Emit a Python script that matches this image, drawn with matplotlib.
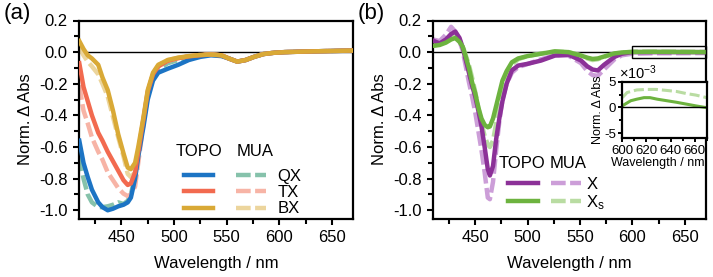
import matplotlib
matplotlib.use('Agg')
import matplotlib.pyplot as plt
from matplotlib.legend_handler import HandlerTuple
from matplotlib.lines import Line2D
from matplotlib.patches import Rectangle
from matplotlib.ticker import MultipleLocator

plt.rcParams['font.family'] = ['Liberation Sans', 'DejaVu Sans']
plt.rcParams['mathtext.fontset'] = 'custom'
plt.rcParams['mathtext.rm'] = 'Liberation Sans'
plt.rcParams['mathtext.it'] = 'Liberation Sans:italic'

# ---------------- data ----------------
wl_a = [410, 414, 418, 422, 428, 432, 437, 442, 447, 452, 456, 459, 463, 466, 471, 475,
        480, 485, 494, 504, 514, 525, 535, 545, 552, 560, 568, 576, 585, 595, 605, 620, 640, 670]
qx_topo = [-0.56, -0.70, -0.79, -0.87, -0.95, -0.98, -1.00, -0.99, -0.975, -0.965, -0.95, -0.92,
           -0.80, -0.66, -0.47, -0.30, -0.18, -0.13, -0.105, -0.08, -0.05, -0.03, -0.02, -0.025,
           -0.04, -0.06, -0.05, -0.03, -0.012, -0.004, 0.0, 0.003, 0.006, 0.01]
qx_mua = [-0.66, -0.80, -0.90, -0.95, -0.98, -0.98, -0.975, -0.965, -0.95, -0.96, -0.94, -0.90,
          -0.78, -0.64, -0.44, -0.28, -0.16, -0.11, -0.07, -0.05, -0.035, -0.022, -0.016, -0.022,
          -0.04, -0.06, -0.05, -0.03, -0.012, -0.004, 0.0, 0.003, 0.006, 0.01]
tx_topo = [-0.07, -0.22, -0.31, -0.40, -0.51, -0.56, -0.63, -0.69, -0.75, -0.81, -0.84, -0.83,
           -0.76, -0.63, -0.42, -0.25, -0.14, -0.09, -0.055, -0.038, -0.027, -0.019, -0.015, -0.02,
           -0.04, -0.06, -0.05, -0.03, -0.012, -0.004, 0.0, 0.003, 0.006, 0.01]
tx_mua = [-0.21, -0.37, -0.45, -0.54, -0.63, -0.68, -0.76, -0.81, -0.86, -0.895, -0.91, -0.90,
          -0.85, -0.70, -0.45, -0.27, -0.15, -0.09, -0.055, -0.038, -0.027, -0.019, -0.015, -0.02,
          -0.04, -0.06, -0.05, -0.03, -0.012, -0.004, 0.0, 0.003, 0.006, 0.01]
bx_topo = [0.07, 0.02, -0.02, -0.04, -0.08, -0.16, -0.24, -0.37, -0.52, -0.64, -0.73, -0.74,
           -0.70, -0.60, -0.41, -0.24, -0.13, -0.08, -0.05, -0.035, -0.025, -0.018, -0.015, -0.02,
           -0.04, -0.06, -0.05, -0.03, -0.012, -0.004, 0.0, 0.003, 0.006, 0.01]
bx_mua = [0.03, -0.02, -0.06, -0.09, -0.14, -0.20, -0.28, -0.41, -0.54, -0.66, -0.77, -0.79,
          -0.76, -0.64, -0.43, -0.26, -0.14, -0.085, -0.05, -0.035, -0.025, -0.018, -0.015, -0.02,
          -0.04, -0.06, -0.05, -0.03, -0.012, -0.004, 0.0, 0.003, 0.006, 0.01]

wl_b = [410, 416, 422, 427, 431, 435, 438, 441, 444, 447, 450, 453, 456, 459, 462, 464, 467, 470,
        473, 476, 480, 485, 491, 500, 513, 526, 539, 551, 557, 562, 567, 573, 583, 590, 600, 620, 640, 670]
x_topo = [0.072, 0.055, 0.08, 0.115, 0.13, 0.09, 0.03, -0.05, -0.13, -0.21, -0.28, -0.37, -0.47,
          -0.60, -0.74, -0.78, -0.72, -0.55, -0.42, -0.31, -0.20, -0.115, -0.085, -0.074, -0.053,
          -0.022, -0.016, -0.053, -0.09, -0.11, -0.116, -0.08, -0.03, -0.01, 0.0, 0.0, 0.0, 0.0]
x_mua = [0.08, 0.07, 0.11, 0.16, 0.13, 0.07, 0.01, -0.09, -0.19, -0.28, -0.38, -0.50, -0.62,
         -0.76, -0.92, -0.93, -0.82, -0.62, -0.44, -0.30, -0.20, -0.13, -0.095, -0.075, -0.045,
         -0.02, -0.022, -0.07, -0.12, -0.145, -0.15, -0.11, -0.045, -0.02, -0.01, -0.007, -0.007, -0.006]
xs_topo = [0.04, 0.045, 0.06, 0.08, 0.089, 0.065, 0.035, -0.03, -0.10, -0.19, -0.26, -0.35, -0.42,
           -0.46, -0.475, -0.47, -0.42, -0.34, -0.26, -0.18, -0.12, -0.064, -0.04, -0.025, -0.01,
           0.005, 0.0, -0.022, -0.035, -0.043, -0.04, -0.028, -0.008, -0.002, 0.001, 0.002, 0.0013, 0.0]
xs_mua = [0.04, 0.05, 0.07, 0.095, 0.10, 0.075, 0.04, -0.02, -0.08, -0.16, -0.25, -0.35, -0.45,
          -0.53, -0.585, -0.60, -0.56, -0.45, -0.34, -0.25, -0.16, -0.08, -0.045, -0.025, -0.008,
          0.003, 0.0, -0.02, -0.04, -0.05, -0.045, -0.03, -0.01, -0.003, 0.003, 0.0035, 0.003, 0.0015]

# inset (units of 1e-3)
wl_in = [600, 601, 607, 612, 618, 623, 629, 637, 645, 653, 661, 670]
xs_topo_in = [0.3, 0.45, 1.3, 1.6, 1.9, 1.9, 1.6, 1.3, 1.0, 0.65, 0.3, -0.05]
wl_in_m = [600, 604, 612, 620, 628, 637, 645, 653, 661, 670]
xs_mua_in = [1.9, 2.9, 3.4, 3.5, 3.5, 3.3, 3.1, 2.7, 2.4, 1.9]

a_labels = ['QX', 'TX', 'BX']
b_labels = ['X', 'X$_{\\mathrm{s}}$']

# ---------------- style ----------------
C = dict(qx='#1c74c4', qxm='#86c2ab', tx='#f26a4f', txm='#f7b4a6', bx='#d9a936', bxm='#ecd59d',
         x='#8c3198', xm='#cc9ed8', xs='#6db33f', xsm='#b9dca2')
LW = 3.2
DASH = (3.3, 1.0)
FS = 12

fig = plt.figure(figsize=(7.13, 2.77), dpi=100)
W, H = 713.0, 277.0
bot = 1 - 218.5 / H
hgt = (218.5 - 20.5) / H
axA = fig.add_axes([79.3 / W, bot, (353 - 79.3) / W, hgt])
axB = fig.add_axes([433.3 / W, bot, (705.7 - 433.3) / W, hgt])


def style_main(ax):
    ax.set_xlim(410, 670)
    ax.set_ylim(-1.052, 0.2)
    ax.xaxis.set_major_locator(MultipleLocator(50))
    ax.xaxis.set_minor_locator(MultipleLocator(25))
    ax.yaxis.set_major_locator(MultipleLocator(0.2))
    ax.yaxis.set_minor_locator(MultipleLocator(0.1))
    ax.set_xticks([450, 500, 550, 600, 650])
    ax.set_yticks([0.2, 0.0, -0.2, -0.4, -0.6, -0.8, -1.0])
    ax.set_yticklabels(['0.2', '0.0', '-0.2', '-0.4', '-0.6', '-0.8', '-1.0'])
    for s in ax.spines.values():
        s.set_linewidth(1.6)
    ax.tick_params(which='major', direction='out', length=4.5, width=1.5, labelsize=FS, pad=4)
    ax.tick_params(which='minor', direction='out', length=3.5, width=1.5)
    ax.tick_params(top=False, right=False, which='both')
    ax.axhline(0, color='black', lw=1.0, zorder=1)
    ax.set_xlabel('Wavelength / nm', fontsize=FS, labelpad=8)
    ax.set_ylabel('Norm. \u0394 Abs', fontsize=FS, labelpad=4)


style_main(axA)
style_main(axB)

# panel a lines
axA.plot(wl_a, qx_mua, color=C['qxm'], lw=LW, ls=(0, DASH), zorder=2)
axA.plot(wl_a, tx_mua, color=C['txm'], lw=LW, ls=(0, DASH), zorder=2)
axA.plot(wl_a, bx_mua, color=C['bxm'], lw=LW, ls=(0, DASH), zorder=2)
axA.plot(wl_a, qx_topo, color=C['qx'], lw=LW, zorder=3)
axA.plot(wl_a, tx_topo, color=C['tx'], lw=LW, zorder=3)
axA.plot(wl_a, bx_topo, color=C['bx'], lw=LW, zorder=3)

# panel b lines
axB.plot(wl_b, x_topo, color=C['x'], lw=LW, zorder=3)
axB.plot(wl_b, x_mua, color=C['xm'], lw=LW, ls=(0, DASH), zorder=2)
axB.plot(wl_b, xs_mua, color=C['xsm'], lw=LW, ls=(0, DASH), zorder=2)
axB.plot(wl_b, xs_topo, color=C['xs'], lw=LW, zorder=3)

axB.add_patch(Rectangle((600, -0.04), 70, 0.08, fill=False, ec='black', lw=1.0, zorder=5, clip_on=False))


def mk(color, dashed):
    return Line2D([], [], color=color, lw=LW, ls=(0, DASH) if dashed else '-')


hA = [(mk(C['qx'], False), mk(C['qxm'], True)),
      (mk(C['tx'], False), mk(C['txm'], True)),
      (mk(C['bx'], False), mk(C['bxm'], True))]
axA.legend(hA, a_labels, handler_map={tuple: HandlerTuple(ndivide=None, pad=1.38)},
           loc='upper left', bbox_to_anchor=(184 / W, 1 - 169 / H), bbox_transform=fig.transFigure,
           frameon=False, borderpad=0, borderaxespad=0, handlelength=4.9, handletextpad=0.7,
           labelspacing=0.07, fontsize=FS)
fig.text(199 / W, 1 - 152 / H, 'TOPO', ha='center', va='center', fontsize=FS)
fig.text(237 / W, 1 - 152 / H, 'MUA', ha='left', va='center', fontsize=FS)

hB = [(mk(C['x'], False), mk(C['xm'], True)),
      (mk(C['xs'], False), mk(C['xsm'], True))]
axB.legend(hB, b_labels, handler_map={tuple: HandlerTuple(ndivide=None, pad=0.8)},
           loc='upper left', bbox_to_anchor=(508 / W, 1 - 177 / H), bbox_transform=fig.transFigure,
           frameon=False, borderpad=0, borderaxespad=0, handlelength=4.4, handletextpad=0.3,
           labelspacing=0.05, fontsize=FS)
fig.text(499 / W, 1 - 163 / H, 'TOPO', ha='left', va='center', fontsize=FS)
fig.text(550 / W, 1 - 163 / H, 'MUA', ha='left', va='center', fontsize=FS)

# inset
axI = fig.add_axes([622.3 / W, 1 - 138.3 / H, (706.7 - 622.3) / W, (138.3 - 81.7) / H])
axI.plot(wl_in_m, xs_mua_in, color=C['xsm'], lw=2.2, ls=(0, (3.3, 1.3)))
axI.plot(wl_in, xs_topo_in, color=C['xs'], lw=2.2)
axI.axhline(0, color='black', lw=1.0)
axI.set_xlim(600, 670)
axI.set_ylim(-6, 5)
axI.set_xticks([600, 620, 640, 660])
axI.xaxis.set_minor_locator(MultipleLocator(10))
axI.set_yticks([5, 0, -5])
axI.set_yticklabels(['5', '0', '-5'])
axI.yaxis.set_minor_locator(MultipleLocator(2.5))
for s in axI.spines.values():
    s.set_linewidth(1.6)
axI.tick_params(which='major', direction='out', length=3, width=1.4, labelsize=9.5, pad=1.5)
axI.tick_params(which='minor', direction='out', length=2.2, width=1.4)
axI.set_xlabel('Wavelength / nm', fontsize=9, labelpad=0)
axI.set_ylabel('Norm. \u0394 Abs', fontsize=9, labelpad=0)
axI.xaxis.set_label_coords(0.42, -0.33)
fig.text(619 / W, 1 - 73 / H, '\u00d710$^{-3}$', ha='left', va='center', fontsize=10.5)

# panel labels
fig.text(4 / W, 1 - 3 / H, '(a)', ha='left', va='top', fontsize=16)
fig.text(358 / W, 1 - 3 / H, '(b)', ha='left', va='top', fontsize=16)

fig.savefig('out.png', dpi=100)
